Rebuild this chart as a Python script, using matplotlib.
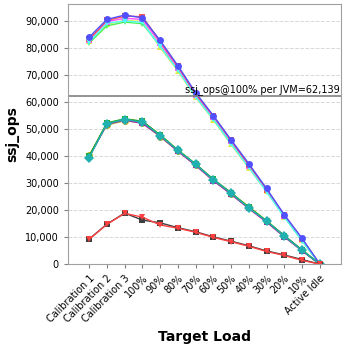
import matplotlib
matplotlib.use("Agg")
import matplotlib.pyplot as plt

# x categories
loads = ["Calibration 1", "Calibration 2", "Calibration 3", "100%", "90%", "80%",
         "70%", "60%", "50%", "40%", "30%", "20%", "10%", "Active Idle"]

# upper group of JVMs
a_blue = [84000, 90600, 92200, 91200, 82800, 73500, 63500, 55000, 46000, 37200, 28000, 18300, 9600, 0]
a_red = [83200, 90200, 91800, 91600, 82500, 73200, 63000, 54800, 45800, 36800, 27600, 18100, 9400, 0]
a_magenta = [83000, 89800, 91000, 90600, 81800, 72600, 62600, 54500, 45600, 36500, 27400, 17900, 9200, 0]
a_yellow = [82500, 88800, 90200, 89900, 80200, 71500, 61800, 53400, 44300, 35600, 26900, 17500, 8800, 0]
a_green = [81800, 88200, 89600, 89000, 80900, 72000, 62200, 53800, 44800, 36000, 27100, 17600, 8600, 0]
a_cyan = [82200, 89200, 90000, 89500, 80600, 71800, 62000, 53600, 44500, 35800, 26800, 17400, 8700, 0]

# middle group of JVMs
b_red = [39900, 51900, 53400, 53000, 47500, 41900, 36700, 31100, 26000, 20700, 15700, 10200, 5000, 0]
b_olive = [40300, 51500, 53100, 52300, 47200, 41900, 36800, 31000, 26100, 21300, 16000, 10400, 5200, 0]
b_blue = [39700, 52100, 53600, 52700, 47700, 42000, 37000, 31300, 26300, 20900, 15800, 10600, 5100, 0]
b_magenta = [39800, 51800, 53300, 52100, 47400, 41800, 36600, 30900, 25900, 20600, 15600, 10100, 5000, 0]
b_green = [40000, 52300, 53800, 52900, 47900, 42300, 37100, 31400, 26500, 21000, 16100, 10500, 5300, 0]
b_cyan = [39400, 52000, 53500, 52600, 47600, 42100, 36900, 31200, 26200, 20800, 15900, 10300, 5100, 0]

# lowest group
c_gray = [9300, 14800, 18900, 16300, 15300, 13500, 12000, 10100, 8500, 6800, 4900, 3400, 1700, 0]
c_red = [9200, 14700, 18800, 17400, 14500, 13300, 11800, 9900, 8300, 6600, 4700, 3200, 1400, 0]

per_jvm = 62139

series = [
    (a_yellow, "#e8e840", "^"),
    (a_green, "#50f050", "v"),
    (a_magenta, "#ff50ff", "s"),
    (a_red, "#ff5050", "s"),
    (a_cyan, "#50ffff", "v"),
    (a_blue, "#5050ff", "o"),
    (b_red, "#e03030", "s"),
    (b_olive, "#b0b020", "o"),
    (b_blue, "#2020c0", "^"),
    (b_magenta, "#b020b0", "s"),
    (b_green, "#20b020", "s"),
    (b_cyan, "#20b0b0", "D"),
    (c_gray, "#404040", "s"),
    (c_red, "#ff4040", "v"),
]

fig = plt.figure(figsize=(3.48, 3.48), dpi=100)
ax = fig.add_axes([0.195, 0.241, 0.785, 0.7475])

x = list(range(len(loads)))
for vals, col, mk in series:
    ax.plot(x, vals, color=col, marker=mk, markersize=5, linewidth=1, markeredgewidth=0)

ax.axhline(per_jvm, color="#808080", linewidth=1.2)
ax.text(len(loads) - 1 + 1.15, per_jvm + 600, "ssj_ops@100% per JVM=62,139",
        ha="right", va="bottom", fontsize=7)

ax.set_xlim(-1.2, len(loads) - 1 + 1.2)
ax.set_ylim(0, 96300)
ax.set_yticks(range(0, 90001, 10000))
ax.set_yticklabels(["0"] + ["{:,}".format(v) for v in range(10000, 90001, 10000)], fontsize=7)
ax.set_xticks(x)
ax.set_xticklabels(loads, rotation=45, ha="right", rotation_mode="anchor", fontsize=7)
ax.yaxis.grid(True, color="#d8d8d8", linestyle="--", linewidth=0.7)
ax.set_axisbelow(True)
for s in ax.spines.values():
    s.set_color("#a0a0a0")
ax.tick_params(colors="#808080", labelcolor="black", length=3)

ax.set_ylabel("ssj_ops", fontsize=10, fontweight="bold")
ax.set_xlabel("Target Load", fontsize=10, fontweight="bold")

fig.savefig("out.png", dpi=100)
